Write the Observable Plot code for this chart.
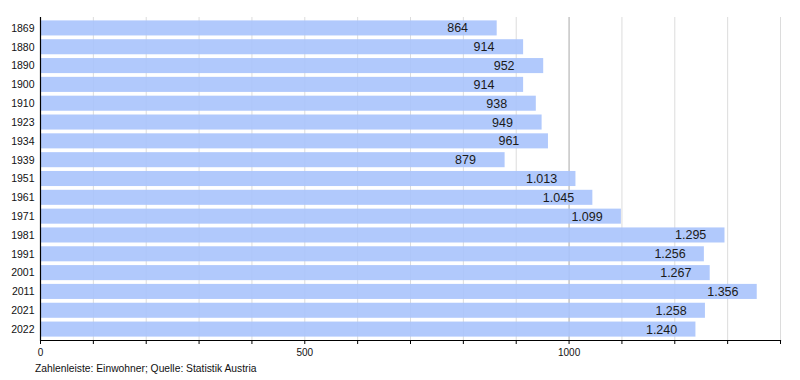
<!DOCTYPE html>
<html>
<head>
<meta charset="utf-8">
<script src="https://cdn.jsdelivr.net/npm/d3@7"></script>
<script src="https://cdn.jsdelivr.net/npm/@observablehq/plot@0.6"></script>
<style>
  body { margin: 0; background: #fff; font-family: "Liberation Sans", Arial, sans-serif; }
  #wrap { position: relative; width: 800px; height: 380px; }
  #caption { position: absolute; left: 35px; top: 363px; font-size: 10.3px; line-height: 12px; color: #111; }
</style>
</head>
<body>
<div id="wrap"><div id="chart"></div><div id="caption">Zahlenleiste: Einwohner; Quelle: Statistik Austria</div></div>
<script>
const years = ["1869","1880","1890","1900","1910","1923","1934","1939","1951","1961","1971","1981","1991","2001","2011","2021","2022"];
const population = [864, 914, 952, 914, 938, 949, 961, 879, 1013, 1045, 1099, 1295, 1256, 1267, 1356, 1258, 1240];
const xTicks = [0,100,200,300,400,500,600,700,800,900,1000,1100,1200,1300,1400];
const xLabels = [0, 500, 1000];

const data = years.map((y, i) => ({year: y, value: population[i]}));
const de = d3.formatLocale({decimal: ",", thousands: ".", grouping: [3], currency: ["", " €"]});
const fmt = de.format(",d");

const chart = Plot.plot({
  width: 800,
  height: 360,
  marginLeft: 40,
  marginRight: 20,
  marginTop: 17,
  marginBottom: 20,
  style: {fontFamily: "'Liberation Sans', Arial, sans-serif", background: "#fff"},
  x: {domain: [0, 1400], axis: null, label: null},
  y: {domain: years, paddingInner: 0.2, paddingOuter: 0.18, round: false, axis: null, label: null},
  marks: [
    Plot.gridX(xTicks.filter(d => d !== 1000 && d !== 0), {stroke: "#dcdcdc", strokeOpacity: 1}),
    Plot.ruleX([1000], {stroke: "#a8a8a8"}),
    Plot.barX(data, {y: "year", x: "value", fill: "#a9c3fc", fillOpacity: 0.9}),
    Plot.text(data, {y: "year", x: "value", text: d => fmt(d.value), textAnchor: "start", dx: -50, fontSize: 12.5, fill: "#1a1a1a"}),
    Plot.ruleX([0], {stroke: "#000", strokeWidth: 1.2}),
    Plot.frame({anchor: "bottom", stroke: "#000", strokeWidth: 1.2}),
    Plot.axisX({ticks: xTicks, tickSize: 4, tickPadding: 4, fontSize: 10, label: null, tickFormat: d => xLabels.includes(d) ? String(d) : "", stroke: "#000", color: "#111"}),
    Plot.axisY({tickSize: 0, tickPadding: 6, fontSize: 10.5, label: null, color: "#111"})
  ]
});
document.getElementById("chart").appendChild(chart);
</script>
</body>
</html>
